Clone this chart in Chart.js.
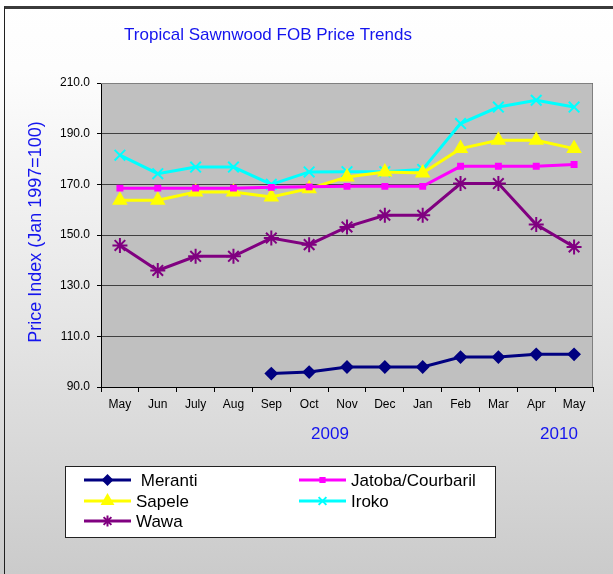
<!DOCTYPE html>
<html lang="en">
<head>
    <meta charset="UTF-8">
    <title>Tropical Sawnwood FOB Price Trends</title>
    <script src="https://cdn.jsdelivr.net/npm/chart.js"></script>
    <style>
        html, body {
            margin: 0;
            padding: 0;
        }

        .frame {
            position: relative;
            width: 613px;
            height: 574px;
            background: linear-gradient(to bottom, #ffffff 0%, #fdfdfd 12%, #e6e6e6 55%, #cbcbcb 100%);
            overflow: hidden;
        }

        .frame:before {
            content: '';
            position: absolute;
            left: 4px;
            top: 6px;
            right: -4px;
            bottom: -4px;
            border-top: 3px solid #3a3a3a;
            border-left: 1px solid #202020;
        }

        canvas {
            position: absolute;
            left: 0;
            top: 0;
        }
    </style>
</head>
<body>
    <div class="frame">
        <canvas id="priceChart" width="613" height="574"></canvas>
    </div>

    <script>
        // month labels (May 2009 - May 2010)
        var months = ['May', 'Jun', 'July', 'Aug', 'Sep', 'Oct', 'Nov', 'Dec', 'Jan', 'Feb', 'Mar', 'Apr', 'May'];
        var yearLabels = ['2009', '2010'];
        var yearAt = [5.55, 11.6]; // category index where the year label sits

        var meranti = [null, null, null, null, 95.3, 95.9, 97.9, 97.9, 97.9, 101.8, 101.8, 102.9, 102.9];
        var jatoba  = [168.5, 168.5, 168.5, 168.5, 168.8, 169.0, 169.2, 169.2, 169.2, 177.1, 177.1, 177.1, 177.8];
        var sapele  = [163.7, 163.7, 167.0, 167.0, 165.0, 168.3, 172.9, 174.9, 174.5, 184.1, 187.4, 187.4, 184.1];
        var iroko   = [181.5, 174.2, 176.8, 176.8, 170.0, 174.9, 175.0, 175.0, 175.9, 194.0, 200.5, 203.2, 200.5];
        var wawa    = [145.9, 136.0, 141.6, 141.6, 148.8, 146.2, 153.2, 157.8, 157.8, 170.3, 170.3, 154.1, 145.3];

        var yTicks = [90, 110, 130, 150, 170, 190, 210];

        function series(label, data, color, style, radius, legendRadius) {
            return {
                label: label,
                data: data,
                borderColor: color,
                backgroundColor: color,
                borderWidth: 3,
                pointStyle: style,
                pointRadius: radius,
                legendRadius: legendRadius,
                pointBorderWidth: 2,
                pointBorderColor: color,
                pointBackgroundColor: color,
                tension: 0,
                spanGaps: false
            };
        }

        var font = "'Liberation Sans', Arial, sans-serif";

        // draws plot background, border, titles, years and the boxed legend
        var decor = {
            id: 'decor',
            beforeDraw: function(chart) {
                var a = chart.chartArea, c = chart.ctx;
                c.save();
                c.fillStyle = '#c0c0c0';
                c.fillRect(a.left, a.top, a.right - a.left, a.bottom - a.top);
                c.restore();
            },
            afterDraw: function(chart) {
                var a = chart.chartArea, c = chart.ctx;
                c.save();
                // plot border (top/right)
                c.strokeStyle = '#808080';
                c.lineWidth = 1;
                c.beginPath();
                c.moveTo(a.left, a.top + 0.5);
                c.lineTo(a.right - 0.5, a.top + 0.5);
                c.lineTo(a.right - 0.5, a.bottom);
                c.stroke();

                // title
                c.fillStyle = '#1414ee';
                c.font = '17px ' + font;
                c.textAlign = 'center';
                c.textBaseline = 'middle';
                c.fillText('Tropical Sawnwood FOB Price Trends', 268, 35);

                // y axis title
                c.save();
                c.translate(36, 232);
                c.rotate(-Math.PI / 2);
                c.font = '18px ' + font;
                c.fillText('Price Index (Jan 1997=100)', 0, 0);
                c.restore();

                // years
                var xs = chart.scales.x;
                c.font = '17px ' + font;
                for (var i = 0; i < yearLabels.length; i++) {
                    var px = xs.getPixelForValue(0) + yearAt[i] * (xs.getPixelForValue(1) - xs.getPixelForValue(0));
                    c.fillText(yearLabels[i], px, 434);
                }

                // legend box
                c.fillStyle = '#ffffff';
                c.fillRect(65.5, 466.5, 430, 71);
                c.strokeStyle = '#222222';
                c.lineWidth = 1;
                c.strokeRect(65.5, 466.5, 430, 71);

                var slots = [[84, 480], [299, 480], [84, 501], [299, 501], [84, 521]];
                var sets = chart.data.datasets;
                c.font = '17px ' + font;
                c.textAlign = 'left';
                for (var k = 0; k < sets.length; k++) {
                    var ds = sets[k], x0 = slots[k][0], y0 = slots[k][1];
                    c.strokeStyle = ds.borderColor;
                    c.fillStyle = ds.borderColor;
                    c.lineWidth = 3;
                    c.beginPath();
                    c.moveTo(x0, y0);
                    c.lineTo(x0 + 47, y0);
                    c.stroke();
                    c.lineWidth = 2;
                    Chart.helpers.drawPoint(c, {
                        pointStyle: ds.pointStyle,
                        radius: ds.legendRadius,
                        rotation: 0,
                        borderWidth: 2
                    }, x0 + 23.5, y0);
                    c.fillStyle = '#000000';
                    c.fillText((k === 0 ? ' ' : '') + ds.label, x0 + 52, y0 + 1);
                }
                c.restore();
            }
        };

        var ctx = document.getElementById('priceChart').getContext('2d');
        var priceChart = new Chart(ctx, {
            type: 'line',
            data: {
                labels: months,
                datasets: [
                    series('Meranti', meranti, '#000080', 'rectRot', 5.5, 4.5),
                    series('Jatoba/Courbaril', jatoba, '#ff00ff', 'rect', 3.5, 3),
                    series('Sapele', sapele, '#ffff00', 'triangle', 7, 6),
                    series('Iroko', iroko, '#00ffff', 'crossRot', 7.5, 5.5),
                    series('Wawa', wawa, '#800080', 'star', 7.5, 5.5)
                ]
            },
            plugins: [decor],
            options: {
                responsive: false,
                animation: false,
                devicePixelRatio: 1,
                layout: {
                    padding: { left: 0, top: 83, right: 20, bottom: 0 }
                },
                plugins: {
                    legend: { display: false },
                    title: { display: false },
                    tooltip: { enabled: false }
                },
                scales: {
                    x: {
                        offset: true,
                        afterFit: function(scale) { scale.height = 187; },
                        grid: {
                            offset: true,
                            drawOnChartArea: false,
                            drawTicks: true,
                            tickLength: 5,
                            color: '#000000'
                        },
                        border: { color: '#000000', width: 1 },
                        ticks: {
                            color: '#000000',
                            padding: 5,
                            maxRotation: 0,
                            autoSkip: false,
                            font: { family: font, size: 12 }
                        }
                    },
                    y: {
                        min: 90,
                        max: 210,
                        afterFit: function(scale) { scale.width = 101; },
                        afterBuildTicks: function(scale) {
                            scale.ticks = yTicks.map(function(v) { return { value: v }; });
                        },
                        grid: {
                            color: '#404040',
                            lineWidth: 1,
                            drawTicks: true,
                            tickLength: 4,
                            tickColor: '#000000'
                        },
                        border: { color: '#000000', width: 1 },
                        ticks: {
                            color: '#000000',
                            padding: 7,
                            font: { family: font, size: 12 },
                            callback: function(v) { return v.toFixed(1); }
                        }
                    }
                }
            }
        });
    </script>
</body>
</html>
